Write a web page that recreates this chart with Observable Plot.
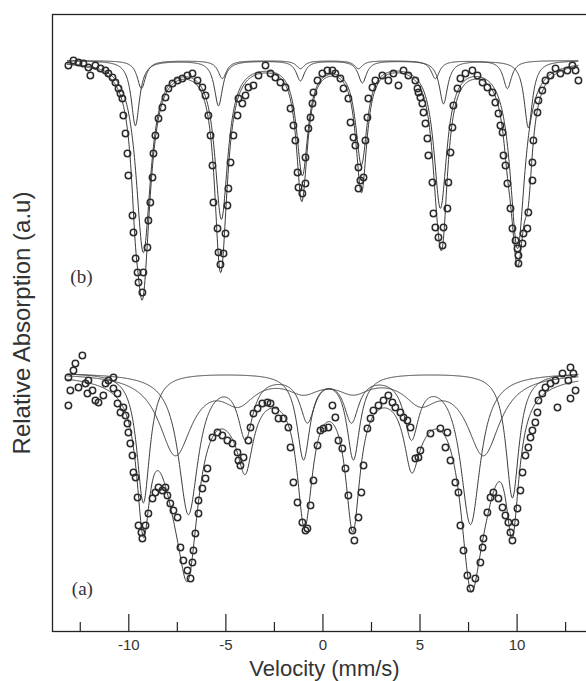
<!DOCTYPE html>
<html><head><meta charset="utf-8">
<script src="https://cdn.jsdelivr.net/npm/d3@7"></script>
<script src="https://cdn.jsdelivr.net/npm/@observablehq/plot@0.6"></script>
<style>html,body{margin:0;padding:0;overflow:hidden;background:#fff}</style>
</head><body><div id="chart"></div>
<script>
// ---- Spectrum (b): measured points (velocity mm/s, relative absorption a.u.)
const bVelocity = [-13.11,-12.85,-12.59,-12.34,-12.08,-11.98,-11.72,-11.46,-11.20,-11.05,
-10.84,-10.69,-10.53,-10.43,-10.33,-10.28,-10.17,-10.07,-10.02,-9.81,
-9.76,-9.65,-9.55,-9.50,-9.30,-9.25,-9.04,-8.99,-8.89,-8.78,
-8.73,-8.63,-8.47,-8.27,-8.11,-7.96,-7.75,-7.49,-7.24,-6.98,
-6.72,-6.46,-6.21,-6.05,-5.90,-5.79,-5.69,-5.64,-5.43,-5.38,
-5.28,-5.12,-5.02,-4.92,-4.87,-4.76,-4.61,-4.40,-4.35,-4.15,
-3.99,-3.84,-3.58,-3.32,-2.96,-2.70,-2.45,-2.19,-1.93,-1.67,
-1.52,-1.42,-1.31,-1.26,-1.06,-0.90,-0.90,-0.75,-0.64,-0.54,
-0.49,-0.28,-0.03,0.23,0.49,0.64,0.90,1.06,1.31,1.42,
1.57,1.67,1.83,1.93,1.83,2.09,2.19,2.29,2.34,2.55,
2.70,3.06,3.37,3.63,3.89,4.15,4.40,4.76,4.92,4.87,
5.02,5.12,5.18,5.28,5.38,5.43,5.64,5.69,5.79,5.95,
6.16,6.21,6.41,6.46,6.57,6.67,6.72,6.93,7.08,7.34,
7.70,7.96,8.22,8.47,8.73,8.88,9.04,9.14,9.25,9.30,
9.40,9.50,9.66,9.76,9.92,10.02,10.07,10.07,10.28,10.33,
10.53,10.58,10.79,10.79,10.84,11.05,11.10,11.30,11.46,11.72,
11.98,12.23,12.59,12.85,13.01,13.16];
const bSignal = [56.6,57.1,56.9,56.8,56.4,55.6,56.6,56.3,56.1,55.8,
55.4,54.9,54.3,53.8,53.3,51.6,49.8,47.8,45.6,41.6,
39.9,37.3,35.9,34.9,33.9,35.9,38.4,41.1,42.9,45.4,
47.8,49.6,51.3,52.4,53.4,54.3,54.8,55.1,55.3,55.6,
55.8,55.1,54.4,53.6,51.6,49.6,46.6,42.9,40.3,37.9,
36.7,37.8,39.8,42.6,44.3,46.9,49.6,51.6,53.3,52.8,
53.6,54.4,54.6,55.6,56.6,55.8,55.4,54.9,54.4,52.3,
50.6,49.1,45.9,44.4,43.8,44.8,47.4,50.3,51.4,52.8,
53.9,55.1,55.8,56.1,56.1,55.8,55.3,54.3,53.3,50.9,
49.4,48.6,46.4,45.1,44.3,45.4,49.1,51.4,53.3,54.4,
55.1,55.6,55.1,55.8,54.6,56.1,55.6,55.1,53.9,54.3,
53.4,52.8,51.9,50.8,49.3,47.6,44.9,41.8,40.4,39.4,
38.6,40.4,42.3,44.9,47.9,50.4,52.6,54.3,55.3,55.8,
56.1,55.6,54.9,54.4,53.9,52.9,51.8,50.6,49.9,47.6,
46.6,44.8,42.3,40.3,39.1,38.3,37.6,36.8,38.8,39.8,
40.3,41.9,45.1,46.9,49.1,51.9,53.1,54.1,55.1,55.6,
56.3,55.8,56.1,56.6,56.1,55.1];

// ---- Spectrum (a): measured points
const aVelocity = [-13.11,-13.01,-13.11,-12.85,-12.39,-12.75,-12.59,-12.23,-12.13,-12.08,
-11.87,-11.72,-11.56,-11.31,-11.20,-11.05,-10.79,-10.79,-10.58,-10.58,
-10.43,-10.28,-10.17,-10.07,-10.02,-9.92,-9.81,-9.76,-9.65,-9.55,
-9.50,-9.35,-9.30,-9.14,-8.99,-8.78,-8.63,-8.47,-8.27,-8.11,
-8.01,-7.86,-7.70,-7.49,-7.34,-7.19,-6.98,-6.82,-6.72,-6.67,
-6.57,-6.41,-6.41,-6.21,-6.05,-5.95,-5.69,-5.43,-5.18,-4.92,
-4.66,-4.40,-4.35,-4.25,-4.09,-3.84,-3.73,-3.58,-3.37,-3.12,
-2.86,-2.70,-2.45,-2.29,-2.03,-1.78,-1.67,-1.52,-1.31,-1.06,
-0.90,-0.80,-0.64,-0.49,-0.28,-0.13,0.03,0.28,0.49,0.64,
0.80,1.00,1.16,1.31,1.52,1.62,1.83,1.98,2.09,2.29,
2.45,2.60,2.86,3.12,3.37,3.58,3.73,3.99,4.15,4.35,
4.51,4.76,4.92,5.02,5.54,6.05,6.41,6.31,6.57,6.82,
6.98,7.08,7.24,7.44,7.60,7.85,8.11,8.22,8.27,8.47,
8.63,8.78,9.04,9.25,9.40,9.55,9.66,9.76,9.91,10.02,
10.17,10.28,10.43,10.58,10.69,10.79,10.94,11.05,11.10,11.30,
11.46,11.72,12.08,11.98,12.34,12.64,12.75,13.01,12.75,12.90];
const aSignal = [22.6,24.1,25.4,26.1,27.6,26.8,24.4,24.8,23.8,25.1,
24.1,23.1,22.9,23.6,24.8,25.1,25.4,24.3,23.8,22.8,
21.9,22.4,21.6,20.8,19.9,18.8,17.6,15.9,15.4,13.4,
10.6,9.9,9.3,10.6,11.8,13.3,13.9,14.4,14.1,14.4,
13.6,12.8,12.1,11.4,8.4,7.1,6.1,5.3,6.9,8.1,
9.8,11.8,13.1,14.3,15.3,16.3,19.4,19.9,19.6,19.1,
18.8,17.9,17.1,16.6,17.4,19.1,20.4,21.8,22.3,22.8,
22.9,22.8,22.1,21.3,21.3,20.4,18.4,14.9,12.9,10.9,
10.1,10.3,12.6,15.1,18.6,20.1,20.3,20.4,22.6,21.4,
19.1,18.3,16.3,13.6,10.1,9.1,11.4,13.9,16.6,20.3,
21.3,22.1,22.6,23.1,23.6,22.9,22.4,21.9,21.4,21.1,
20.4,17.3,17.4,18.1,19.8,20.3,19.9,18.4,17.1,14.9,
13.9,10.6,8.1,5.6,4.3,5.3,6.9,8.4,9.3,11.9,
13.4,13.9,13.3,12.4,11.6,10.9,9.9,9.1,10.9,12.3,
14.1,15.9,17.6,18.4,19.4,20.1,20.9,21.9,23.1,23.8,
24.4,24.8,22.4,25.1,25.8,25.1,26.4,24.1,23.3,25.8];

// ---- Fitted sub-spectra (Lorentzian lines): position, depth, half width
const bBaseline = 57.1;
const bMainPos = [-9.25,-5.23,-1.06,1.98,6.05,10.02];
const bMainDepth = [19.0,15.5,11.1,10.0,14.4,18.6];
const bMainWidth = [0.46,0.41,0.36,0.36,0.41,0.46];
const bSub1Pos = [-9.66,-5.38,-1.16,2.03,6.21,10.58];
const bSub1Depth = [6.5,4.5,2.0,2.2,4.3,6.7];
const bSub1Width = [0.26,0.26,0.26,0.26,0.26,0.26];
const bSub2Pos = [-9.35,-5.18,-1.16,1.83,5.79,9.50];
const bSub2Depth = [2.8,1.8,0.8,0.8,1.8,2.8];
const bSub2Width = [0.26,0.26,0.26,0.26,0.26,0.26];

const aBaseline = 25.9;
const aSharpPos = [-9.25,-1.00,1.57,9.76];
const aSharpDepth = [13.0,8.5,8.5,12.5];
const aSharpWidth = [0.41,0.41,0.41,0.41];
const aSextetPos = [-6.93,-3.99,-0.80,1.47,4.56,7.60];
const aSextetDepth = [14.0,6.0,4.5,4.5,6.0,15.0];
const aSextetWidth = [0.62,0.46,0.46,0.46,0.46,0.62];
const aBroadPos = [-7.60,-4.35,-1.00,1.57,5.02,8.27];
const aBroadDepth = [8.0,2.5,1.5,1.5,2.5,8.0];
const aBroadWidth = [1.03,1.03,1.03,1.03,1.03,1.03];

const majorTicks = [-10,-5,0,5,10];
const minorTicks = [-12.5,-7.5,-2.5,2.5,7.5,12.5];
const panelNames = ["(b)","(a)"];
const panelVelocity = [-12.44,-12.39];
const panelSignal = [35.5,4.3];

// ---- build tables
function absorb(v, pos, depth, width) {
  let s = 0;
  for (let i = 0; i < pos.length; i++) { const t = (v - pos[i]) / width[i]; s += depth[i] / (1 + t * t); }
  return s;
}
const points = [];
bVelocity.forEach((v, i) => points.push({v, y: bSignal[i]}));
aVelocity.forEach((v, i) => points.push({v, y: aSignal[i]}));

const curves = [];
const grid = d3.range(-13.15, 13.15, 0.02);
const bComps = [[bMainPos,bMainDepth,bMainWidth],[bSub1Pos,bSub1Depth,bSub1Width],[bSub2Pos,bSub2Depth,bSub2Width]];
const aComps = [[aSharpPos,aSharpDepth,aSharpWidth],[aSextetPos,aSextetDepth,aSextetWidth],[aBroadPos,aBroadDepth,aBroadWidth]];
function addSpectrum(name, base, comps) {
  for (const v of grid) {
    let tot = 0;
    comps.forEach((c, k) => { const d = absorb(v, c[0], c[1], c[2]); tot += d; curves.push({v, y: base - d, s: name + k}); });
    curves.push({v, y: base - tot, s: name + "total"});
  }
}
addSpectrum("b", bBaseline, bComps);
addSpectrum("a", aBaseline, aComps);

const ink = "#2b2b2b";
const chart = Plot.plot({
  width: 596, height: 681,
  marginLeft: 52, marginRight: 0, marginTop: 14, marginBottom: 50,
  style: {fontFamily: "Liberation Sans, Arial, sans-serif", fontSize: "15px", color: "#333",
    background: "#fff", maxWidth: "none", overflow: "visible"},
  x: {domain: [-13.93, 14.09]},
  y: {domain: [0, 61.7], axis: null},
  marks: [
    Plot.line(curves, {x: "v", y: "y", z: "s", stroke: "#3a3a3a", strokeWidth: 1}),
    Plot.dot(points, {x: "v", y: "y", r: 3.2, stroke: ink, strokeWidth: 1.5, fill: "none"}),
    Plot.frame({stroke: "#222", strokeWidth: 1.3}),
    Plot.ruleX(majorTicks, {x: d => d, y1: 0, y2: 1.7, stroke: "#222", strokeWidth: 1.2}),
    Plot.ruleX(minorTicks, {x: d => d, y1: 0, y2: 0.9, stroke: "#222", strokeWidth: 1.2}),
    Plot.axisX({ticks: majorTicks, tickSize: 0, tickPadding: 8, tickFormat: d => String(d), fontSize: 15, label: null}),
    Plot.text(panelNames, {x: (d, i) => panelVelocity[i], y: (d, i) => panelSignal[i], text: d => d,
      fontFamily: "Liberation Serif, Times New Roman, serif", fontSize: 19, fill: "#333"}),
    Plot.text(["Relative Absorption (a.u)"], {frameAnchor: "left", dx: -30, rotate: -90,
      textAnchor: "middle", lineAnchor: "middle", fontSize: 24, fill: "#333"}),
    Plot.text(["Velocity (mm/s)"], {frameAnchor: "bottom", dy: 37, textAnchor: "middle",
      lineAnchor: "middle", fontSize: 22, fill: "#333"})
  ]
});
document.getElementById("chart").appendChild(chart);
</script>
</body></html>
